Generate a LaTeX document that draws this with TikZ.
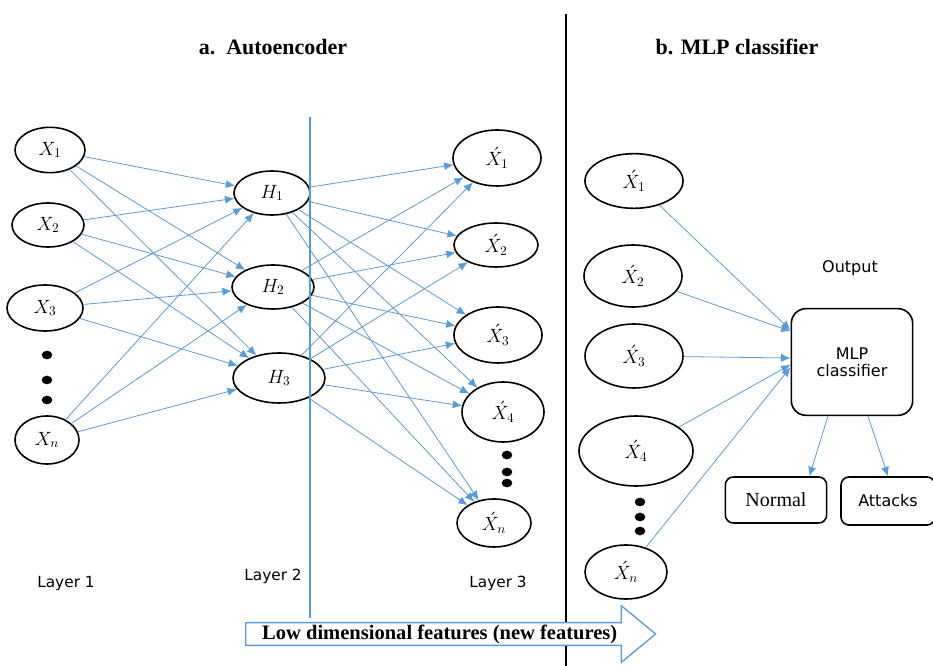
\documentclass[tikz,border=0pt]{standalone}
\usepackage{fontspec}
\setmainfont{Liberation Serif}
\setsansfont{DejaVu Sans}
\usepackage{amsmath}
\usetikzlibrary{arrows.meta,shapes.geometric,shapes.arrows}
\definecolor{wire}{RGB}{91,155,213}
\tikzset{>={Latex[length=7pt,width=6pt]}}

\begin{document}
\begin{tikzpicture}[x=0.75pt,y=-0.75pt,
    neuron/.style 2 args={draw,line width=1.2pt,ellipse,inner sep=0pt,minimum width=#1,minimum height=#2,font=\fontsize{14}{16}\selectfont},
    link/.style={->,wire,line width=0.6pt},
    dot/.style={fill,ellipse,inner sep=0pt,minimum width=8pt,minimum height=6.5pt},
    lab/.style={font=\sffamily\fontsize{11.5}{14}\selectfont},
    title/.style={font=\bfseries\fontsize{16.5}{19}\selectfont},
    outbox/.style={draw,line width=1.2pt,rounded corners=6pt,inner sep=0pt}]
  \useasboundingbox (0,0) rectangle (933,666);

  \node[title] (ta) at (273,47) {a.\enspace Autoencoder};
  \node[title] (tb) at (737,47) {b. MLP classifier};

  \node[neuron={52.5pt}{34pt}] (x1) at (50,150) {$X_1$};
  \node[neuron={54pt}{33pt}] (x2) at (48,225) {$X_2$};
  \node[neuron={57pt}{34.5pt}] (x3) at (45,308) {$X_3$};
  \node[neuron={48pt}{36pt}] (xn) at (47,440) {$X_n$};
  \foreach \y in {355,380,400} \node[dot] at (47,\y) {};

  \node[neuron={57pt}{33pt}] (h1) at (272,193) {$H_1$};
  \node[neuron={61.5pt}{33pt}] (h2) at (273,287) {$H_2$};
  \node[neuron={69pt}{37.5pt}] (h3) at (279,378) {$H_3$};

  \node[neuron={66pt}{42pt}] (y1) at (497,158) {$\acute{X}_1$};
  \node[neuron={63pt}{33pt}] (y2) at (496,245) {$\acute{X}_2$};
  \node[neuron={66pt}{42pt}] (y3) at (498,335) {$\acute{X}_3$};
  \node[neuron={61.5pt}{45pt}] (y4) at (503,412) {$\acute{X}_4$};
  \node[neuron={55.5pt}{36pt}] (yn) at (494,523) {$\acute{X}_n$};
  \foreach \y in {455,472,483} \node[dot] at (507,\y) {};

  \foreach \a in {x1,x2,x3,xn}
    \foreach \b in {h1,h2,h3}
      \draw[link] (\a) -- (\b);
  \foreach \a in {h1,h2,h3}
    \foreach \b in {y1,y2,y3,y4,yn}
      \draw[link] (\a) -- (\b);

  \node[lab] (l1) at (66,584) {Layer 1};
  \node[lab] (l2) at (273,576) {Layer 2};
  \node[lab] (l3) at (498,583) {Layer 3};

  \draw[wire,line width=0.8pt] (310,117) -- (310,618);
  \draw[line width=1.1pt] (566,14) -- (566,666);

  \node[single arrow,draw=wire,fill=white,line width=1pt,anchor=tail,
        minimum height=307.5pt,minimum width=24pt,inner sep=1pt,
        single arrow head extend=12.75pt,single arrow tip angle=79,
        font=\bfseries\fontsize{15.4}{18}\selectfont] (feat) at (245,634)
        {Low dimensional features (new features)\hspace*{6pt}};

  \node[neuron={73.5pt}{41pt}] (r1) at (634,181) {$\acute{X}_1$};
  \node[neuron={73.5pt}{46.5pt}] (r2) at (633,276) {$\acute{X}_2$};
  \node[neuron={73.5pt}{48pt}] (r3) at (634,356) {$\acute{X}_3$};
  \node[neuron={85.5pt}{52.5pt}] (r4) at (636,451) {$\acute{X}_4$};
  \node[neuron={61.5pt}{40.5pt}] (rn) at (626,572) {$\acute{X}_n$};
  \foreach \y in {502,517,531} \node[dot] at (640,\y) {};

  \node[outbox,rounded corners=11pt,minimum width=91pt,minimum height=80pt,
        align=center,font=\sffamily\fontsize{12}{13}\selectfont] (mlp) at (852,362) {MLP\\classifier};
  \node[lab,font=\sffamily\fontsize{12}{14}\selectfont] (out) at (850,268) {Output};
  \node[outbox,minimum width=76pt,minimum height=34.5pt,font=\fontsize{15}{18}\selectfont] (normal) at (776,500) {Normal};
  \node[outbox,minimum width=70.5pt,minimum height=36pt,font=\sffamily\fontsize{12}{14}\selectfont] (attacks) at (888,501) {Attacks};

  \draw[link] (r1) -- ([yshift=24pt]mlp.west);
  \draw[link] (r2) -- ([yshift=23pt]mlp.west);
  \draw[link] (r3) -- ([yshift=3pt]mlp.west);
  \draw[link] (r4) -- ([yshift=-2pt]mlp.west);
  \draw[link] (rn) -- ([yshift=-4pt]mlp.west);
  \draw[link] ([xshift=-18pt]mlp.south) -- ([xshift=25pt]normal.north);
  \draw[link] ([xshift=12pt]mlp.south) -- (attacks.north);
\end{tikzpicture}
\end{document}
